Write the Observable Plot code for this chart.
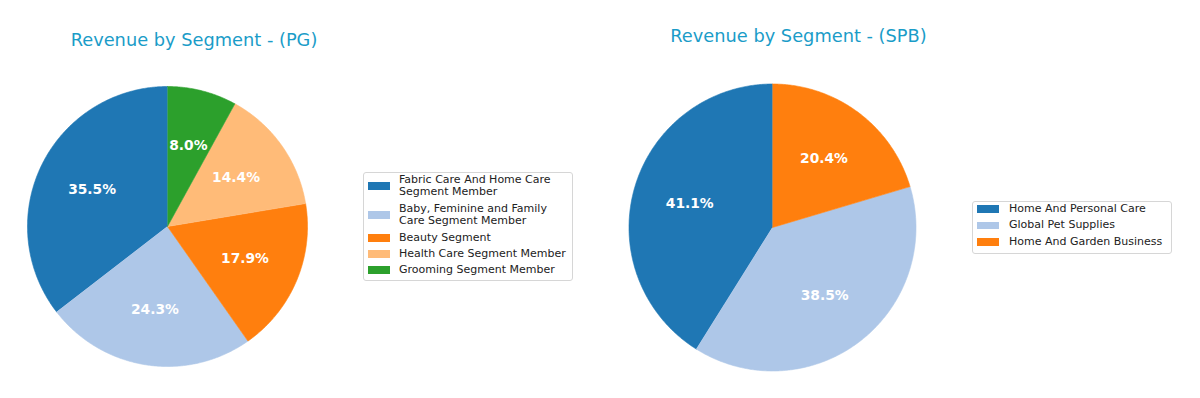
<!DOCTYPE html>
<html>
<head>
<meta charset="utf-8">
<script src="https://cdn.jsdelivr.net/npm/d3@7"></script>
<script src="https://cdn.jsdelivr.net/npm/@observablehq/plot@0.6"></script>
<style>
  html, body { margin: 0; padding: 0; background: #fff; }
  body { width: 1200px; height: 398px; position: relative; overflow: hidden; font-family: "DejaVu Sans", sans-serif; }
  .title { position: absolute; font-size: 17.8px; line-height: 17.8px; color: #1a9cc8; white-space: nowrap; transform: translateX(-50%); }
  .pie { position: absolute; }
  .pie text { font-family: "DejaVu Sans", sans-serif; }
  .legend { position: absolute; border: 1px solid #d6d6d6; border-radius: 3px; background: #fff; box-sizing: border-box; }
  .lg-patch { position: absolute; width: 22px; height: 7.5px; }
  .lg-text { position: absolute; font-size: 11px; line-height: 12.5px; color: #222; white-space: nowrap; }
</style>
</head>
<body>
<script>
// ---- Data ----
const pgLabels = [
  "Fabric Care And Home Care\nSegment Member",
  "Baby, Feminine and Family\nCare Segment Member",
  "Beauty Segment",
  "Health Care Segment Member",
  "Grooming Segment Member"
];
const pgValues = [35.5, 24.3, 17.9, 14.4, 8.0];
const pgColors = ["#1f77b4", "#aec7e8", "#ff7f0e", "#ffbb78", "#2ca02c"];

const spbLabels = ["Home And Personal Care", "Global Pet Supplies", "Home And Garden Business"];
const spbValues = [41.1, 38.5, 20.4];
const spbColors = ["#1f77b4", "#aec7e8", "#ff7f0e"];

// ---- Pie builder ----
function pieChart(values, labels, colors, R, size) {
  const total = d3.sum(values);
  const pts = [];
  const txt = [];
  let cum = 0;
  values.forEach((v, i) => {
    const a0 = 90 + cum / total * 360;
    const a1 = 90 + (cum + v) / total * 360;
    cum += v;
    pts.push({label: labels[i], x: 0, y: 0});
    const n = Math.max(2, Math.ceil((a1 - a0) / 0.5));
    for (let k = 0; k <= n; k++) {
      const t = (a0 + (a1 - a0) * k / n) * Math.PI / 180;
      pts.push({label: labels[i], x: Math.cos(t), y: Math.sin(t)});
    }
    const am = ((a0 + a1) / 2) * Math.PI / 180;
    txt.push({x: 0.6 * Math.cos(am), y: 0.6 * Math.sin(am), text: v.toFixed(1) + "%"});
  });
  const s = size / 2 / R;
  return Plot.plot({
    width: size, height: size, margin: 0,
    style: {background: "transparent", fontFamily: "DejaVu Sans"},
    x: {domain: [-s, s], axis: null},
    y: {domain: [-s, s], axis: null},
    color: {domain: labels, range: colors},
    marks: [
      Plot.line(pts, {x: "x", y: "y", z: "label", fill: "label", stroke: "label", strokeWidth: 0.6, curve: "linear"}),
      Plot.text(txt, {x: "x", y: "y", text: "text", fill: "white", fontWeight: "bold", fontSize: 13.8, fontFamily: "DejaVu Sans"})
    ]
  });
}

function place(el, cx, cy, size) {
  el.classList.add("pie");
  el.style.left = (cx - size / 2) + "px";
  el.style.top = (cy - size / 2) + "px";
  document.body.appendChild(el);
}

function title(text, cx, top) {
  const d = document.createElement("div");
  d.className = "title";
  d.textContent = text;
  d.style.left = cx + "px";
  d.style.top = top + "px";
  document.body.appendChild(d);
}

function legend(labels, colors, box, centers, patchX, textX) {
  const b = document.createElement("div");
  b.className = "legend";
  b.style.left = box[0] + "px"; b.style.top = box[1] + "px";
  b.style.width = (box[2] - box[0]) + "px"; b.style.height = (box[3] - box[1]) + "px";
  document.body.appendChild(b);
  labels.forEach((lab, i) => {
    const lines = lab.split("\n");
    const c = centers[i];
    const p = document.createElement("div");
    p.className = "lg-patch";
    p.style.background = colors[i];
    p.style.left = patchX + "px";
    p.style.top = (c - 3.75) + "px";
    document.body.appendChild(p);
    const t = document.createElement("div");
    t.className = "lg-text";
    t.style.left = textX + "px";
    t.style.top = (c - lines.length * 6.25) + "px";
    t.innerHTML = lines.map(l => l.replace(/&/g, "&amp;")).join("<br>");
    document.body.appendChild(t);
  });
}

title("Revenue by Segment - (PG)", 194, 31);
title("Revenue by Segment - (SPB)", 798.5, 27);

place(pieChart(pgValues, pgLabels, pgColors, 140, 300), 167, 226, 300);
place(pieChart(spbValues, spbLabels, spbColors, 143.5, 300), 771.5, 226.5, 300);

legend(pgLabels, pgColors, [363, 172, 573, 281], [186, 215, 238, 254, 270], 368, 399);
legend(spbLabels, spbColors, [972, 201, 1172, 254], [209, 225.5, 242], 977, 1009);
</script>
</body>
</html>
